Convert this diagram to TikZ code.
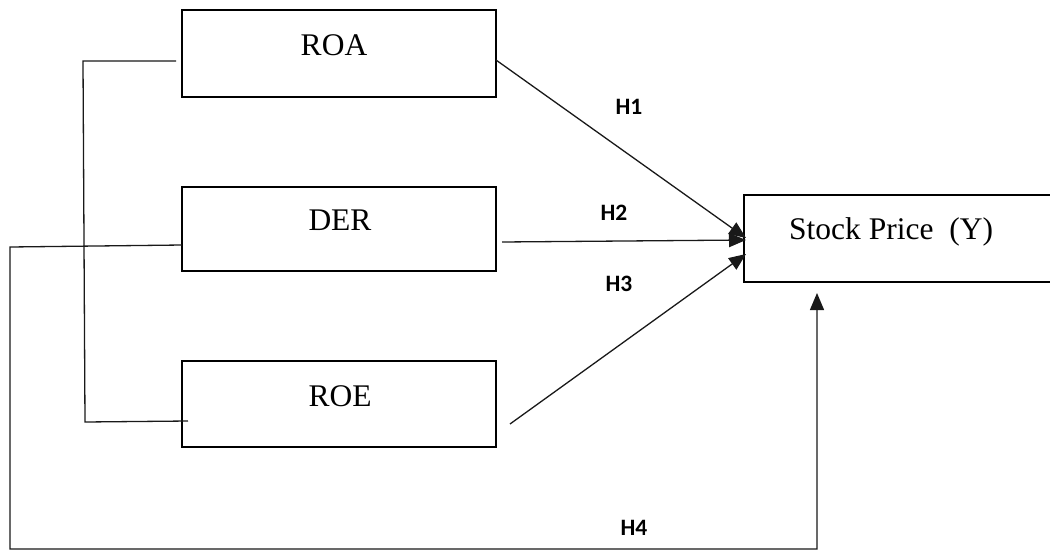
\documentclass[tikz,border=0pt]{standalone}
\usepackage{fontspec}
\setmainfont{Liberation Serif}
\newfontfamily\hfont{Carlito}
\usetikzlibrary{arrows.meta}
\begin{document}
\begin{tikzpicture}[x=1pt,y=-1pt,
  box/.style={draw, line width=2.6pt, rectangle, inner sep=0pt},
  conn/.style={line width=1.3pt, draw=black!90},
  arr/.style={conn, -{Triangle[length=17pt,width=14pt]}},
  lbl/.style={font=\fontsize{31.5}{36}\selectfont, inner sep=0pt},
  hyp/.style={font=\hfont\bfseries\fontsize{23.5}{26}\selectfont, inner sep=0pt}]
\useasboundingbox (0,0) rectangle (1050,552);
% boxes
\node[box, minimum width=314pt, minimum height=87pt] (roa) at (339,53.5) {};
\node[box, minimum width=314pt, minimum height=84pt] (der) at (339,229) {};
\node[box, minimum width=314pt, minimum height=86pt] (roe) at (339,404) {};
\node[box, minimum width=316pt, minimum height=87pt] (stock) at (902,238.5) {};
% texts
\node[lbl] (roaT) at (334,45) {ROA};
\node[lbl] (derT) at (340,220) {DER};
\node[lbl] (roeT) at (340,396) {ROE};
\node[lbl, anchor=west] (stockT) at (789,232) {Stock Price\ \ (Y)};
% hypothesis labels
\node[hyp] (h1) at (629,107) {H1};
\node[hyp] (h2) at (614,213) {H2};
\node[hyp] (h3) at (619,284) {H3};
\node[hyp] (h4) at (634,528) {H4};
% arrow endpoints
\coordinate (roaOut) at (496,60);
\coordinate (derOut) at (502,242);
\coordinate (roeOut) at (510,424);
\coordinate (in1) at (746,238);
\coordinate (in2) at (746,240);
\coordinate (in3) at (746,254);
\draw[arr] (roaOut) -- (in1);
\draw[arr] (derOut) -- (in2);
\draw[arr] (roeOut) -- (in3);
% bracket joining ROA and ROE
\coordinate (bA) at (176,61);
\coordinate (bB) at (83,61);
\coordinate (bC) at (85,422);
\coordinate (bD) at (188,421);
\draw[conn] (bA) -- (bB) -- (bC) -- (bD);
% H4 path from DER to stock price
\coordinate (dA) at (182,245);
\coordinate (dB) at (10,247);
\coordinate (dC) at (10,549);
\coordinate (dD) at (817,549);
\coordinate (dE) at (817,293);
\draw[arr] (dA) -- (dB) -- (dC) -- (dD) -- (dE);
\end{tikzpicture}
\end{document}
